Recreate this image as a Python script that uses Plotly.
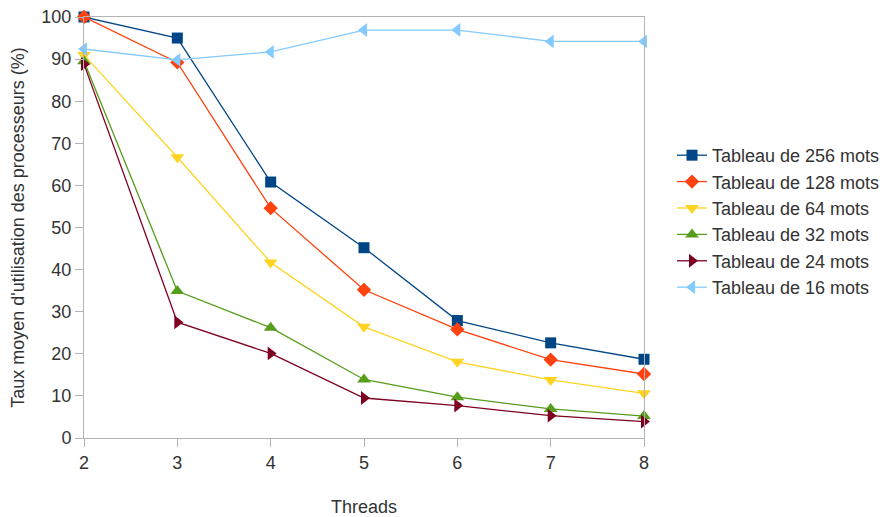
import plotly.graph_objects as go

threads = [2, 3, 4, 5, 6, 7, 8]
names = ["Tableau de 256 mots", "Tableau de 128 mots", "Tableau de 64 mots",
         "Tableau de 32 mots", "Tableau de 24 mots", "Tableau de 16 mots"]
s256 = [100, 95.0, 60.8, 45.2, 27.9, 22.6, 18.7]
s128 = [100, 89.2, 54.6, 35.2, 25.8, 18.6, 15.2]
s64 = [91.0, 66.7, 41.7, 26.4, 18.1, 13.8, 10.6]
s32 = [89.5, 34.9, 26.2, 13.9, 9.7, 6.9, 5.2]
s24 = [88.8, 27.5, 20.1, 9.5, 7.7, 5.3, 3.9]
s16 = [92.4, 89.8, 91.7, 96.9, 96.9, 94.2, 94.2]

series = [s256, s128, s64, s32, s24, s16]
colors = ["#004586", "#ff420e", "#ffd320", "#579d1c", "#7e0021", "#83caff"]
symbols = ["square", "diamond", "triangle-down", "triangle-up", "triangle-right", "triangle-left"]
sizes = [11, 11, 12, 12, 12, 12]

fig = go.Figure()
for i, (nm, ys) in enumerate(zip(names, series)):
    fig.add_trace(go.Scatter(
        x=threads, y=ys, name=nm, mode="lines+markers",
        line=dict(color=colors[i], width=1.3),
        marker=dict(symbol=symbols[i], size=sizes[i], color=colors[i]),
        cliponaxis=False, legendgroup=f"g{i}",
    ))

axis_common = dict(
    showgrid=False, zeroline=False, showline=True, linecolor="#b3b3b3",
    linewidth=1, mirror=True, ticks="outside", ticklen=8, tickcolor="#b3b3b3",
    tickfont=dict(size=18, color="#333333"), automargin=False,
)

fig.update_layout(
    width=885, height=517,
    margin=dict(l=84, r=241, t=17, b=79, autoexpand=False),
    paper_bgcolor="white", plot_bgcolor="white",
    font=dict(family="Liberation Sans", size=18, color="#333333"),
    xaxis=dict(range=[2, 8], dtick=1,
               title=dict(text="Threads", font=dict(size=18), standoff=32),
               **axis_common),
    yaxis=dict(range=[0, 100], dtick=10,
               title=dict(text="Taux moyen d'utilisation des processeurs (%)", font=dict(size=18), standoff=12),
               **axis_common),
    legend=dict(x=1.05, y=0.715, xanchor="left", yanchor="top",
                font=dict(size=18, color="#333333"), tracegroupgap=0,
                bgcolor="rgba(0,0,0,0)"),
)

fig.write_html("out.html", config={"displayModeBar": False},
               post_script="document.body.style.margin='0';document.body.style.overflow='hidden';")
